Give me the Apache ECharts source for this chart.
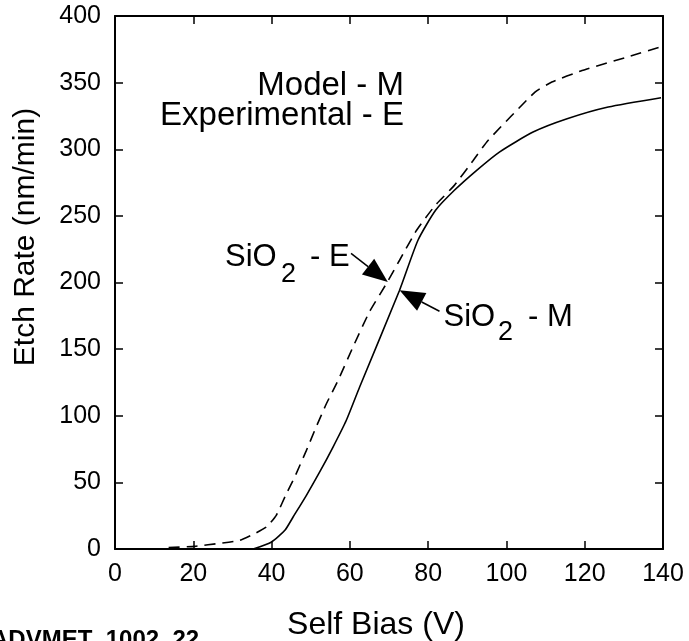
<!DOCTYPE html>
<html>
<head>
<meta charset="utf-8">
<script src="https://cdn.jsdelivr.net/npm/echarts@6/dist/echarts.min.js"></script>
<style>
  html, body { margin: 0; padding: 0; background: #fff; }
  #chart { width: 689px; height: 641px; }
</style>
</head>
<body>
<div id="chart"></div>
<script>
// Model curve (solid)
var modelBias = [35.3, 40, 43.4, 45.5, 48.9, 52.3, 55.7, 59.1, 62.5, 72.7, 77.4, 81.9, 86.7, 92.4, 98.2, 106.8, 115.5, 126, 139.5];
var modelRate = [0, 5.3, 14, 24, 40.3, 57.8, 76.5, 96.6, 121.6, 194.2, 231.7, 254.2, 269.2, 284.2, 297.9, 312.9, 322.9, 331.7, 338.7];
// Experimental curve (dashed)
var expBias = [13.7, 20.4, 27.1, 31.9, 35.3, 38.7, 41.2, 43.8, 45.9, 48.9, 51.4, 54, 57, 60.8, 65, 69.3, 72.7, 77, 81.8, 86.7, 91.5, 95.3, 107.3, 111.6, 119.3, 130.8, 140];
var expRate = [1, 2, 4.4, 6.5, 11, 16.5, 25.3, 41.6, 54, 74, 91.6, 109, 126.6, 151.6, 178, 199, 216.7, 239, 257.9, 272.9, 291.6, 306.6, 342.9, 350.4, 359.1, 369.1, 377.4];
// arrow annotations: [tailX, tailY, tipX, tipY] in data units
var arrowE = [60.3, 221.8, 69.7, 200.4];
var arrowM = [82.9, 178.4, 72.7, 194.1];

var FONT = "'Liberation Sans', Arial, sans-serif";

function pairs(xs, ys) {
  var out = [];
  for (var i = 0; i < xs.length; i++) out.push([xs[i], ys[i]]);
  return out;
}

// every axis gets its own objects, ticks pointing into the plot
function frameAxis(pos, max, step, labels) {
  return {
    type: 'value', min: 0, max: max, interval: step, position: pos,
    axisLine: { show: true, onZero: false, lineStyle: { color: '#000', width: 2 } },
    axisTick: { show: true, inside: true, length: 8, lineStyle: { color: '#000', width: 1.5 } },
    splitLine: { show: false },
    axisLabel: labels ? {
      show: true, fontSize: 25, color: '#000', fontFamily: FONT,
      margin: (pos === 'bottom') ? 13 : 14
    } : { show: false }
  };
}

var chart = echarts.init(document.getElementById('chart'));

chart.setOption({
  animation: false,
  backgroundColor: '#fff',
  grid: { left: 115, right: 26, top: 16, bottom: 92 },
  xAxis: [frameAxis('bottom', 140, 20, true), frameAxis('top', 140, 20, false)],
  yAxis: [frameAxis('left', 400, 50, true), frameAxis('right', 400, 50, false)],
  series: [{
    name: 'Model',
    type: 'line',
    smooth: 0.2,
    symbol: 'none',
    lineStyle: { color: '#000', width: 1.6 },
    data: pairs(modelBias, modelRate)
  }, {
    name: 'Experimental',
    type: 'line',
    smooth: 0.15,
    symbol: 'none',
    lineStyle: { color: '#000', width: 1.6, type: [11, 7] },
    data: pairs(expBias, expRate)
  }]
});

function arrowShapes(a) {
  var s = chart.convertToPixel({ gridIndex: 0 }, [a[0], a[1]]);
  var t = chart.convertToPixel({ gridIndex: 0 }, [a[2], a[3]]);
  var dx = t[0] - s[0], dy = t[1] - s[1];
  var len = Math.sqrt(dx * dx + dy * dy);
  var ux = dx / len, uy = dy / len;
  var L = 25, W = 20;
  var bx = t[0] - ux * L, by = t[1] - uy * L;
  return [{
    type: 'line',
    shape: { x1: s[0], y1: s[1], x2: bx, y2: by },
    style: { stroke: '#000', lineWidth: 1.5 }
  }, {
    type: 'polygon',
    shape: { points: [t, [bx - uy * W / 2, by + ux * W / 2], [bx + uy * W / 2, by - ux * W / 2]] },
    style: { fill: '#000' }
  }];
}

function txt(str, x, y, size, align, extra) {
  var o = {
    type: 'text', x: x, y: y,
    style: {
      text: str, fill: '#000', fontSize: size, fontFamily: FONT,
      align: align || 'left', verticalAlign: 'middle'
    }
  };
  if (extra) for (var k in extra) o.style[k] = extra[k];
  return o;
}

var graphics = [
  txt('Model - M', 404, 86, 33, 'right'),
  txt('Experimental - E', 404, 116, 33, 'right'),
  txt('SiO', 225, 257, 31),
  txt('2', 281, 275, 27),
  txt('- E', 310, 257, 31),
  txt('SiO', 443.5, 317.5, 31),
  txt('2', 498, 333, 27),
  txt('- M', 528, 317.5, 31),
  txt('ADVMET_1002_22', -9, 640.6, 24, 'left', { fontWeight: 'bold' }),
  txt('Self Bias (V)', 376, 625, 32, 'center'),
  {
    type: 'text', x: 26, y: 237, rotation: Math.PI / 2,
    style: {
      text: 'Etch Rate (nm/min)', fill: '#000', fontSize: 30, fontFamily: FONT,
      align: 'center', verticalAlign: 'middle'
    }
  }
].concat(arrowShapes(arrowE), arrowShapes(arrowM));

chart.setOption({ graphic: graphics });
</script>
</body>
</html>
